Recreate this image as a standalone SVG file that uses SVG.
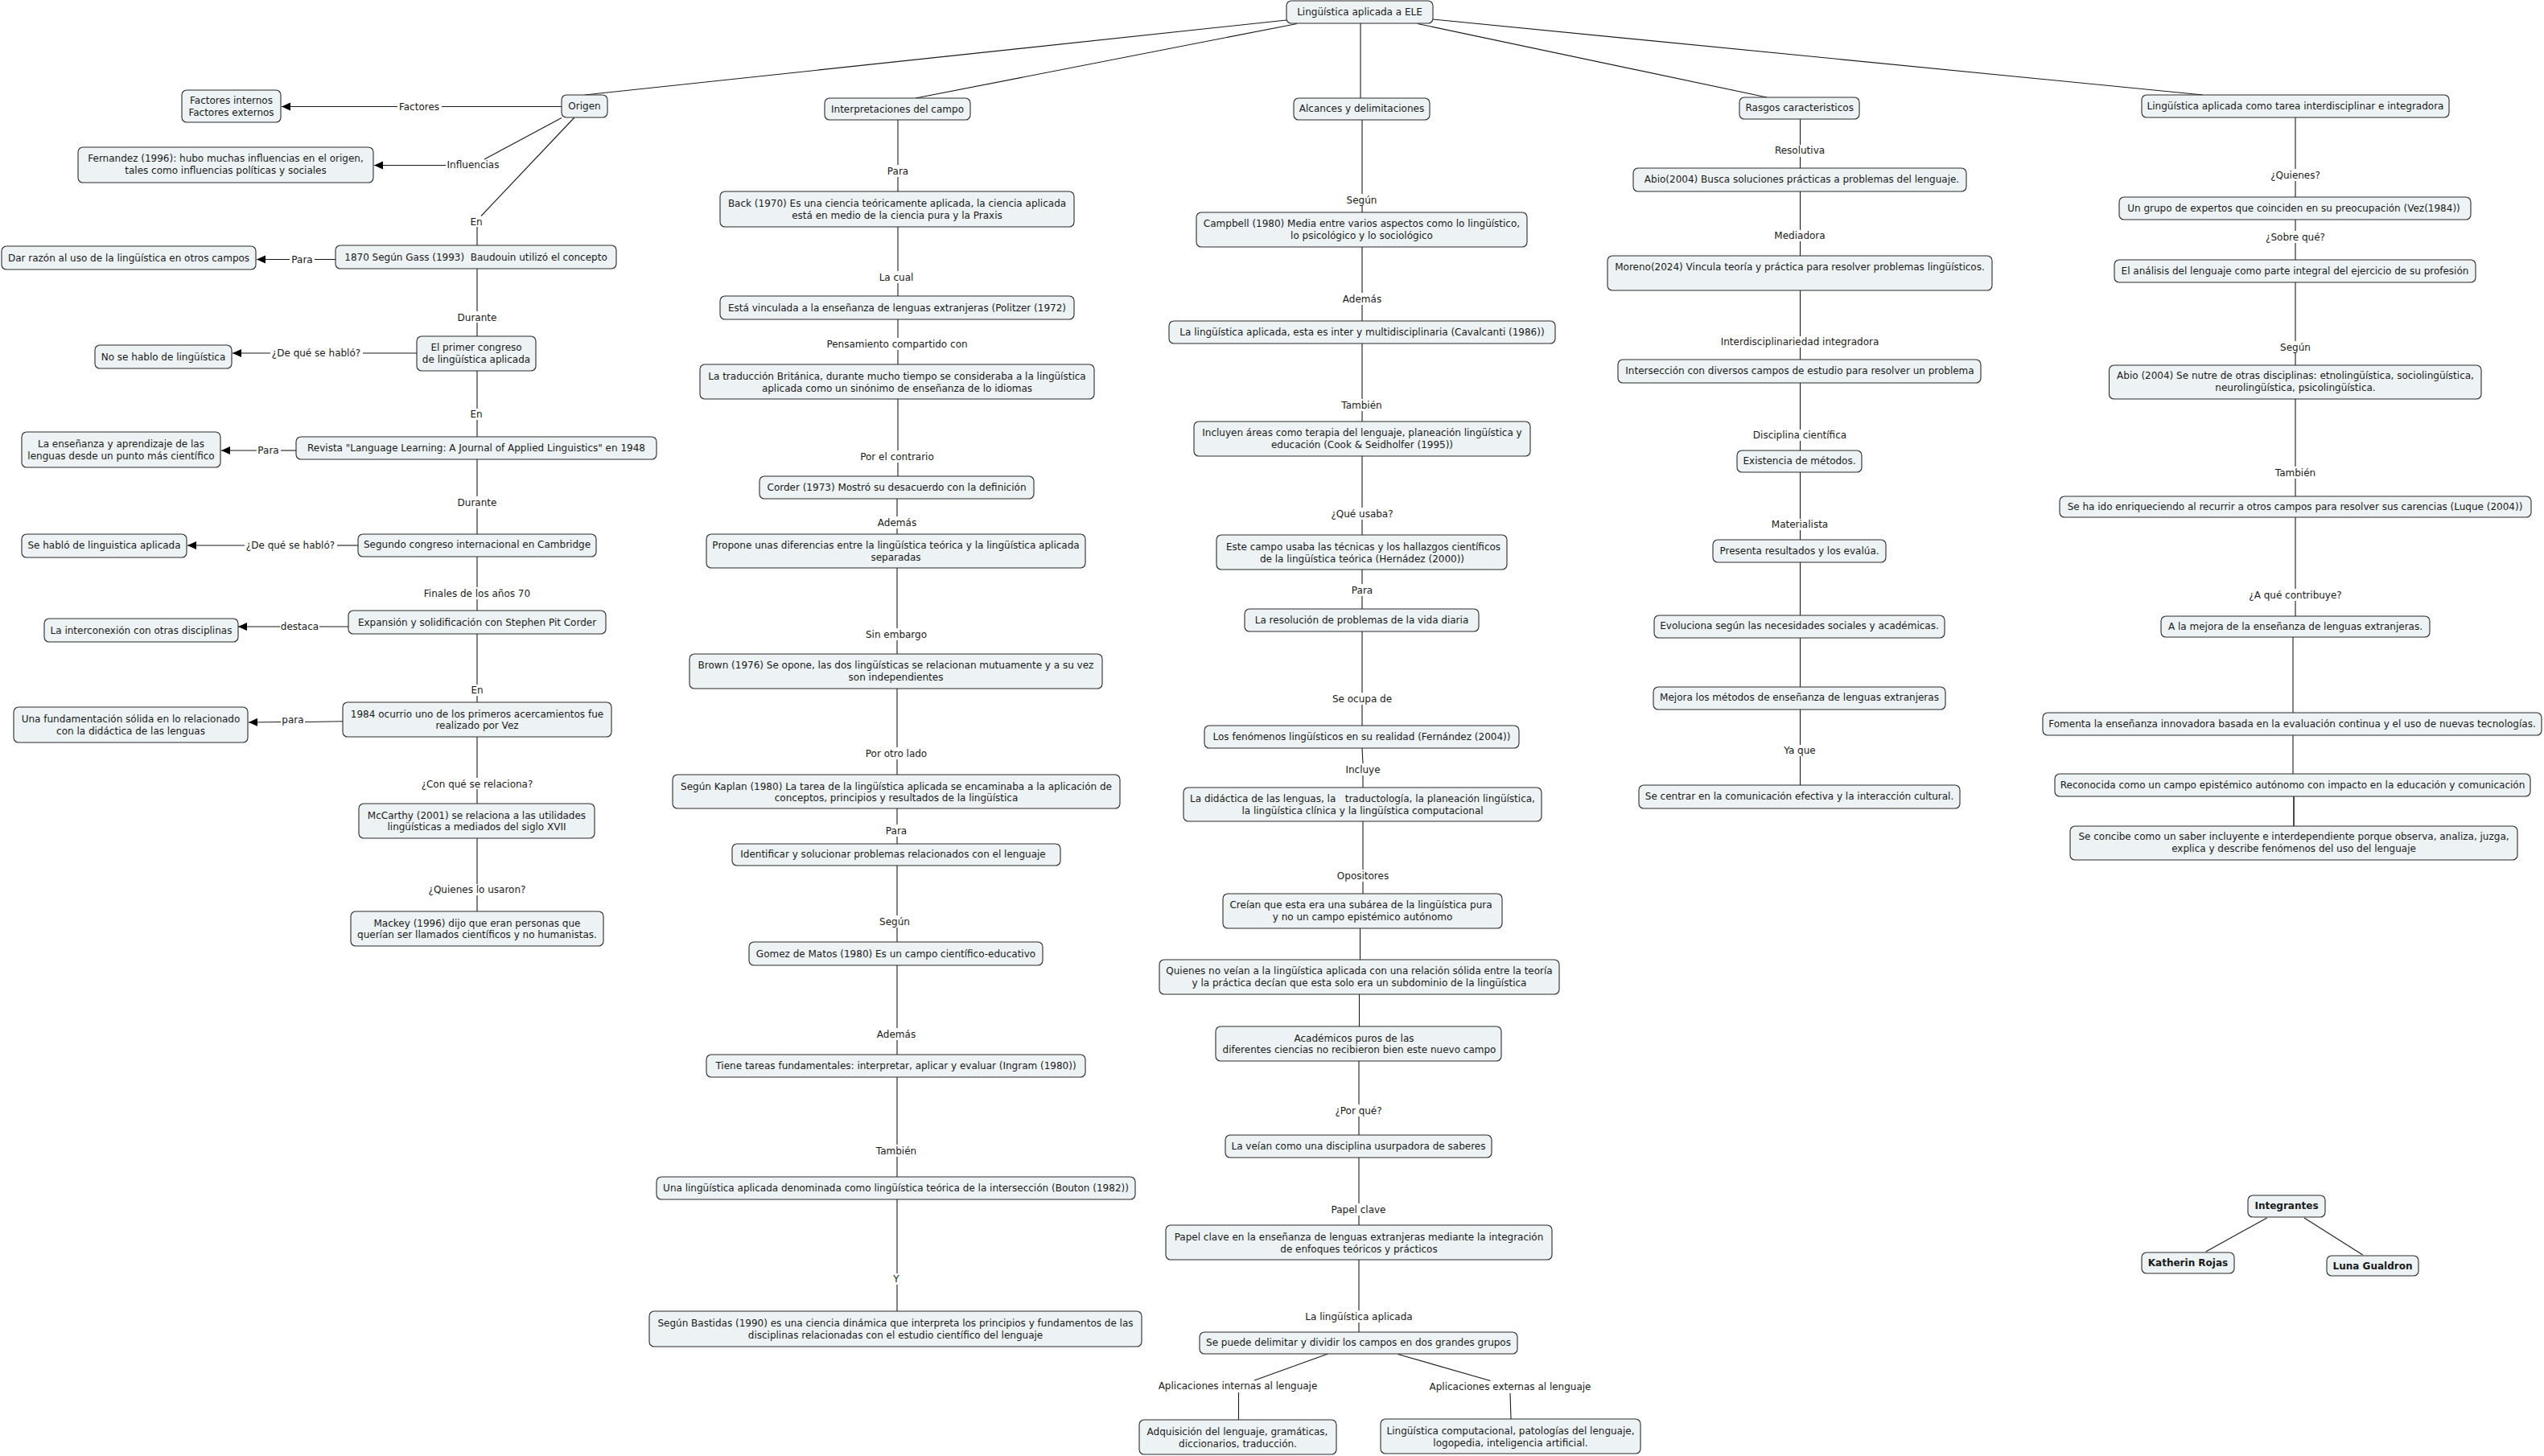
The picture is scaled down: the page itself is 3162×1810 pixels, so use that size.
<svg xmlns="http://www.w3.org/2000/svg" width="3162" height="1810" viewBox="0 0 3162 1810">
<style>
.n{fill:#edf3f5;stroke:#2a2a2a;stroke-width:1.1}
text{font-family:"DejaVu Sans",Verdana,sans-serif;font-size:12px;fill:#1a1a1a;text-anchor:middle}
.b{font-weight:bold}
.c line,.c polyline{stroke:#1a1a1a;stroke-width:1.1;fill:none}
</style>
<defs>
<marker id="ar" markerUnits="userSpaceOnUse" markerWidth="12" markerHeight="11" refX="11" refY="5" orient="auto">
<path d="M0,0 L11,5 L0,10 z" fill="#000"/>
</marker>
</defs>
<rect width="3162" height="1810" fill="#fff"/>

<g class="c" id="connectors">
<!-- root -->
<line x1="1599" y1="25" x2="727" y2="118"/>
<line x1="1612" y1="29.5" x2="1138" y2="122"/>
<line x1="1691" y1="29" x2="1691" y2="122"/>
<line x1="1762" y1="29.5" x2="2196" y2="121"/>
<line x1="1781" y1="24" x2="2738" y2="118"/>
<!-- origen -->
<line x1="698" y1="132.5" x2="549" y2="132.5"/>
<line x1="494" y1="132.5" x2="350" y2="132.5" marker-end="url(#ar)"/>
<line x1="698" y1="146.5" x2="602" y2="198"/>
<line x1="554" y1="205.5" x2="465" y2="205.5" marker-end="url(#ar)"/>
<line x1="714" y1="146" x2="598" y2="268.5"/>
<line x1="593" y1="282" x2="593" y2="305"/>
<line x1="417" y1="322.5" x2="391" y2="322.5"/>
<line x1="360" y1="322.5" x2="319" y2="322.5" marker-end="url(#ar)"/>
<line x1="593" y1="334" x2="593" y2="387"/>
<line x1="593" y1="401" x2="593" y2="418"/>
<line x1="518" y1="439" x2="451" y2="439"/>
<line x1="336" y1="439" x2="289" y2="439" marker-end="url(#ar)"/>
<line x1="593" y1="461" x2="593" y2="508"/>
<line x1="593" y1="522" x2="593" y2="543"/>
<line x1="368" y1="560" x2="349" y2="560"/>
<line x1="319" y1="560" x2="275" y2="560" marker-end="url(#ar)"/>
<line x1="593" y1="571" x2="593" y2="617"/>
<line x1="593" y1="632" x2="593" y2="664"/>
<line x1="445" y1="678" x2="419" y2="678"/>
<line x1="304" y1="678" x2="233" y2="678" marker-end="url(#ar)"/>
<line x1="593" y1="692" x2="593" y2="730"/>
<line x1="593" y1="745" x2="593" y2="759"/>
<line x1="433" y1="779" x2="397" y2="779"/>
<line x1="348" y1="779" x2="296" y2="779" marker-end="url(#ar)"/>
<line x1="593" y1="788" x2="593" y2="851"/>
<line x1="593" y1="865" x2="593" y2="873"/>
<line x1="426" y1="896.7" x2="379" y2="897.5"/>
<line x1="349" y1="897.5" x2="309" y2="898" marker-end="url(#ar)"/>
<line x1="593" y1="916" x2="593" y2="967"/>
<line x1="593" y1="981" x2="593" y2="999"/>
<line x1="593" y1="1042" x2="593" y2="1099"/>
<line x1="593" y1="1113" x2="593" y2="1133"/>
<!-- interpretaciones -->
<line x1="1116" y1="149" x2="1116" y2="205"/>
<line x1="1116" y1="220" x2="1116" y2="238"/>
<line x1="1116" y1="282" x2="1116" y2="337"/>
<line x1="1116" y1="352" x2="1116" y2="368"/>
<line x1="1116" y1="397" x2="1116" y2="420"/>
<line x1="1116" y1="435" x2="1116" y2="453"/>
<line x1="1116" y1="496" x2="1116" y2="560"/>
<line x1="1116" y1="575" x2="1116" y2="592"/>
<line x1="1115" y1="620" x2="1115" y2="642"/>
<line x1="1115" y1="657" x2="1115" y2="664"/>
<line x1="1115" y1="706" x2="1115" y2="781"/>
<line x1="1115" y1="796" x2="1115" y2="813"/>
<line x1="1115" y1="856" x2="1115" y2="929"/>
<line x1="1115" y1="944" x2="1115" y2="963"/>
<line x1="1115" y1="1005" x2="1115" y2="1025"/>
<line x1="1115" y1="1040" x2="1115" y2="1049"/>
<line x1="1115" y1="1076" x2="1115" y2="1138"/>
<line x1="1115" y1="1153" x2="1115" y2="1171"/>
<line x1="1115" y1="1200" x2="1115" y2="1278"/>
<line x1="1115" y1="1293" x2="1115" y2="1311"/>
<line x1="1115" y1="1339" x2="1115" y2="1423"/>
<line x1="1115" y1="1438" x2="1115" y2="1463"/>
<line x1="1115" y1="1491" x2="1115" y2="1583"/>
<line x1="1115" y1="1597" x2="1115" y2="1630"/>
<!-- alcances -->
<line x1="1693" y1="149" x2="1693" y2="241"/>
<line x1="1693" y1="256" x2="1693" y2="264"/>
<line x1="1693" y1="307" x2="1693" y2="364"/>
<line x1="1693" y1="379" x2="1693" y2="399"/>
<line x1="1693" y1="427" x2="1693" y2="496"/>
<line x1="1693" y1="511" x2="1693" y2="524"/>
<line x1="1693" y1="567" x2="1693" y2="631"/>
<line x1="1693" y1="646" x2="1693" y2="665"/>
<line x1="1693" y1="708" x2="1693" y2="726"/>
<line x1="1693" y1="741" x2="1693" y2="757"/>
<line x1="1693" y1="785" x2="1693" y2="861"/>
<line x1="1693" y1="876" x2="1693" y2="902"/>
<line x1="1693" y1="930" x2="1694" y2="949"/>
<line x1="1694" y1="964" x2="1694" y2="979"/>
<line x1="1694" y1="1021" x2="1694" y2="1081"/>
<line x1="1694" y1="1096" x2="1694" y2="1111"/>
<line x1="1690.5" y1="1154" x2="1690.5" y2="1193"/>
<line x1="1689.5" y1="1236" x2="1689.5" y2="1276"/>
<line x1="1689" y1="1319" x2="1689" y2="1373"/>
<line x1="1689" y1="1388" x2="1689" y2="1411"/>
<line x1="1689" y1="1439" x2="1689" y2="1496"/>
<line x1="1689" y1="1511" x2="1689" y2="1523"/>
<line x1="1689" y1="1566" x2="1689" y2="1629"/>
<line x1="1689" y1="1644" x2="1689" y2="1656"/>
<line x1="1650.5" y1="1683" x2="1559" y2="1716"/>
<line x1="1539.5" y1="1731" x2="1539.5" y2="1765"/>
<line x1="1737.5" y1="1683.5" x2="1852.5" y2="1716.5"/>
<line x1="1877" y1="1732" x2="1878" y2="1764"/>
<!-- rasgos -->
<line x1="2237.5" y1="148" x2="2237.5" y2="180"/>
<line x1="2237.5" y1="195" x2="2237.5" y2="209"/>
<line x1="2237.5" y1="238" x2="2237.5" y2="286"/>
<line x1="2237.5" y1="300" x2="2237.5" y2="318"/>
<line x1="2237.5" y1="361" x2="2237.5" y2="418"/>
<line x1="2237.5" y1="432" x2="2237.5" y2="447"/>
<line x1="2237.5" y1="476" x2="2237.5" y2="534"/>
<line x1="2237.5" y1="548" x2="2237.5" y2="560"/>
<line x1="2237.5" y1="587" x2="2237.5" y2="645"/>
<line x1="2237.5" y1="659" x2="2237.5" y2="671"/>
<line x1="2237.5" y1="699" x2="2237.5" y2="765"/>
<line x1="2237.5" y1="793" x2="2237.5" y2="854"/>
<line x1="2237.5" y1="882" x2="2237.5" y2="926"/>
<line x1="2237.5" y1="940" x2="2237.5" y2="976"/>
<!-- tarea -->
<line x1="2853" y1="146" x2="2853" y2="210"/>
<line x1="2853" y1="225" x2="2853" y2="245"/>
<line x1="2853" y1="273" x2="2853" y2="287"/>
<line x1="2853" y1="302" x2="2853" y2="323"/>
<line x1="2853" y1="351" x2="2853" y2="424"/>
<line x1="2853" y1="439" x2="2853" y2="454"/>
<line x1="2853" y1="496" x2="2853" y2="580"/>
<line x1="2853" y1="595" x2="2853" y2="617"/>
<line x1="2853" y1="643" x2="2853" y2="732"/>
<line x1="2853" y1="747" x2="2853" y2="766"/>
<line x1="2850" y1="792" x2="2850" y2="886"/>
<line x1="2850" y1="914" x2="2850" y2="962"/>
<line x1="2851" y1="990" x2="2851" y2="1027" style="stroke-width:1.6"/>
<!-- integrantes -->
<line x1="2817.7" y1="1514" x2="2741.7" y2="1556"/>
<line x1="2864" y1="1514" x2="2936.7" y2="1560"/>
</g>

<g id="labels">
<text x="521" y="136.6">Factores</text>
<text x="588" y="209.3">Influencias</text>
<text x="592" y="280.3">En</text>
<text x="375.5" y="327">Para</text>
<text x="593" y="398.6">Durante</text>
<text x="393" y="442.6">¿De qué se habló?</text>
<text x="592" y="519.3">En</text>
<text x="333.5" y="564.3">Para</text>
<text x="593" y="629">Durante</text>
<text x="361" y="682">¿De qué se habló?</text>
<text x="593" y="741.6">Finales de los años 70</text>
<text x="372.5" y="783.3">destaca</text>
<text x="593" y="862">En</text>
<text x="364" y="899.3">para</text>
<text x="593" y="978.6">¿Con qué se relaciona?</text>
<text x="593" y="1110">¿Quienes lo usaron?</text>

<text x="1116" y="217">Para</text>
<text x="1114" y="349.3">La cual</text>
<text x="1115" y="432.3">Pensamiento compartido con</text>
<text x="1115" y="572.3">Por el contrario</text>
<text x="1115" y="653.7">Además</text>
<text x="1114" y="793.3">Sin embargo</text>
<text x="1114" y="941.3">Por otro lado</text>
<text x="1114" y="1037.3">Para</text>
<text x="1112" y="1150.3">Según</text>
<text x="1114" y="1290.3">Además</text>
<text x="1114" y="1435.3">También</text>
<text x="1114" y="1594.3">Y</text>

<text x="1692.5" y="252.7">Según</text>
<text x="1693" y="376">Además</text>
<text x="1692.5" y="508.3">También</text>
<text x="1693" y="643.3">¿Qué usaba?</text>
<text x="1693" y="738">Para</text>
<text x="1693" y="873.3">Se ocupa de</text>
<text x="1694" y="961.3">Incluye</text>
<text x="1694" y="1093.3">Opositores</text>
<text x="1688.5" y="1385.3">¿Por qué?</text>
<text x="1688.5" y="1508.3">Papel clave</text>
<text x="1689" y="1641.3">La lingüística aplicada</text>
<text x="1538.5" y="1727">Aplicaciones internas al lenguaje</text>
<text x="1877" y="1728.3">Aplicaciones externas al lenguaje</text>

<text x="2237" y="191.3">Resolutiva</text>
<text x="2237" y="297.3">Mediadora</text>
<text x="2237" y="429.3">Interdisciplinariedad integradora</text>
<text x="2237" y="545.3">Disciplina científica</text>
<text x="2237" y="656">Materialista</text>
<text x="2237" y="937.3">Ya que</text>

<text x="2853" y="222">¿Quienes?</text>
<text x="2853" y="299">¿Sobre qué?</text>
<text x="2853" y="436.3">Según</text>
<text x="2853" y="592.3">También</text>
<text x="2853" y="744.3">¿A qué contribuye?</text>
</g>

<g id="n-root"><rect class="n" x="1599" y="1" width="182" height="28" rx="6"/><text x="1690" y="19">Lingüística aplicada a ELE</text></g>

<g id="n-origen"><rect class="n" x="698" y="118" width="57" height="28" rx="6"/><text x="726.5" y="135.5">Origen</text></g>
<g id="n-factores"><rect class="n" x="226" y="112" width="123" height="40" rx="6"/><text x="287.5" y="129.3">Factores internos</text><text x="287.5" y="143.6">Factores externos</text></g>
<g id="n-fernandez"><rect class="n" x="97" y="183" width="367" height="44" rx="6"/><text x="280.5" y="201.3">Fernandez (1996): hubo muchas influencias en el origen,</text><text x="280.5" y="216">tales como influencias políticas y sociales</text></g>
<g id="n-1870"><rect class="n" x="417" y="305" width="349" height="29" rx="6"/><text x="591.5" y="324" xml:space="preserve" style="white-space:pre">1870 Según Gass (1993)  Baudouin utilizó el concepto</text></g>
<g id="n-darrazon"><rect class="n" x="2" y="306" width="316" height="29" rx="6"/><text x="160" y="325">Dar razón al uso de la lingüística en otros campos</text></g>
<g id="n-primercongreso"><rect class="n" x="518" y="418" width="148" height="43" rx="6"/><text x="592" y="436.3">El primer congreso</text><text x="592" y="451.3">de lingüística aplicada</text></g>
<g id="n-nosehablo"><rect class="n" x="118" y="429" width="170" height="29" rx="6"/><text x="203" y="447.5">No se hablo de lingüística</text></g>
<g id="n-revista"><rect class="n" x="368" y="543" width="448" height="28" rx="6"/><text x="592" y="560.6">Revista "Language Learning: A Journal of Applied Linguistics" en 1948</text></g>
<g id="n-ensenanza"><rect class="n" x="27" y="537" width="247" height="44" rx="6"/><text x="150.5" y="556.3">La enseñanza y aprendizaje de las</text><text x="150.5" y="570.6">lenguas desde un punto más científico</text></g>
<g id="n-segundo"><rect class="n" x="445" y="664" width="296" height="28" rx="6"/><text x="593" y="681">Segundo congreso internacional en Cambridge</text></g>
<g id="n-sehablo"><rect class="n" x="27" y="664" width="205" height="29" rx="6"/><text x="129.5" y="682">Se habló de linguistica aplicada</text></g>
<g id="n-expansion"><rect class="n" x="433" y="759" width="320" height="29" rx="6"/><text x="593" y="777.6">Expansión y solidificación con Stephen Pit Corder</text></g>
<g id="n-interconexion"><rect class="n" x="55" y="769" width="241" height="29" rx="6"/><text x="175.5" y="787.6">La interconexión con otras disciplinas</text></g>
<g id="n-1984"><rect class="n" x="426" y="873" width="334" height="43" rx="6"/><text x="593" y="891.5">1984 ocurrio uno de los primeros acercamientos fue</text><text x="593" y="906">realizado por Vez</text></g>
<g id="n-fundamentacion"><rect class="n" x="17" y="879" width="291" height="44" rx="6"/><text x="162.5" y="898.3">Una fundamentación sólida en lo relacionado</text><text x="162.5" y="912.6">con la didáctica de las lenguas</text></g>
<g id="n-mccarthy"><rect class="n" x="446" y="999" width="293" height="43" rx="6"/><text x="592.5" y="1017.6">McCarthy (2001) se relaciona a las utilidades</text><text x="592.5" y="1032">lingüísticas a mediados del siglo XVII</text></g>
<g id="n-mackey"><rect class="n" x="436" y="1133" width="314" height="43" rx="6"/><text x="593" y="1151.6">Mackey (1996) dijo que eran personas que</text><text x="593" y="1166">querían ser llamados científicos y no humanistas.</text></g>

<g id="n-interp"><rect class="n" x="1025" y="122" width="181" height="27" rx="6"/><text x="1115.5" y="139.5">Interpretaciones del campo</text></g>
<g id="n-back"><rect class="n" x="895" y="238" width="440" height="44" rx="6"/><text x="1115" y="256.6">Back (1970) Es una ciencia teóricamente aplicada, la ciencia aplicada</text><text x="1115" y="271.6">está en medio de la ciencia pura y la Praxis</text></g>
<g id="n-politzer"><rect class="n" x="895" y="368" width="440" height="29" rx="6"/><text x="1115" y="387">Está vinculada a la enseñanza de lenguas extranjeras (Politzer (1972)</text></g>
<g id="n-traduccion"><rect class="n" x="870" y="453" width="490" height="43" rx="6"/><text x="1115" y="472">La traducción Británica, durante mucho tiempo se consideraba a la lingüística</text><text x="1115" y="486.7">aplicada como un sinónimo de enseñanza de lo idiomas</text></g>
<g id="n-corder"><rect class="n" x="944" y="592" width="341" height="28" rx="6"/><text x="1114.5" y="610.3">Corder (1973) Mostró su desacuerdo con la definición</text></g>
<g id="n-propone"><rect class="n" x="878" y="664" width="471" height="42" rx="6"/><text x="1113.5" y="682">Propone unas diferencias entre la lingüística teórica y la lingüística aplicada</text><text x="1113.5" y="696.6">separadas</text></g>
<g id="n-brown"><rect class="n" x="857" y="813" width="513" height="43" rx="6"/><text x="1113.5" y="831">Brown (1976) Se opone, las dos lingüísticas se relacionan mutuamente y a su vez</text><text x="1113.5" y="845.7">son independientes</text></g>
<g id="n-kaplan"><rect class="n" x="836" y="963" width="556" height="42" rx="6"/><text x="1114" y="981.7">Según Kaplan (1980) La tarea de la lingüística aplicada se encaminaba a la aplicación de</text><text x="1114" y="996">conceptos, principios y resultados de la lingüística</text></g>
<g id="n-identificar"><rect class="n" x="910" y="1049" width="408" height="27" rx="6"/><text x="1110" y="1066">Identificar y solucionar problemas relacionados con el lenguaje</text></g>
<g id="n-gomez"><rect class="n" x="931" y="1171" width="365" height="29" rx="6"/><text x="1113.5" y="1189.7">Gomez de Matos (1980) Es un campo científico-educativo</text></g>
<g id="n-tiene"><rect class="n" x="878" y="1311" width="471" height="28" rx="6"/><text x="1113.5" y="1329">Tiene tareas fundamentales: interpretar, aplicar y evaluar (Ingram (1980))</text></g>
<g id="n-bouton"><rect class="n" x="816" y="1463" width="595" height="28" rx="6"/><text x="1113.5" y="1481.3">Una lingüística aplicada denominada como lingüística teórica de la intersección (Bouton (1982))</text></g>
<g id="n-bastidas"><rect class="n" x="807" y="1630" width="612" height="44" rx="6"/><text x="1113" y="1649.3">Según Bastidas (1990) es una ciencia dinámica que interpreta los principios y fundamentos de las</text><text x="1113" y="1663.8">disciplinas relacionadas con el estudio científico del lenguaje</text></g>

<g id="n-alcances"><rect class="n" x="1608" y="122" width="169" height="27" rx="6"/><text x="1692.5" y="139">Alcances y delimitaciones</text></g>
<g id="n-campbell"><rect class="n" x="1487" y="264" width="411" height="43" rx="6"/><text x="1692.5" y="282.3">Campbell (1980) Media entre varios aspectos como lo lingüístico,</text><text x="1692.5" y="297.3">lo psicológico y lo sociológico</text></g>
<g id="n-cavalcanti"><rect class="n" x="1453" y="399" width="480" height="28" rx="6"/><text x="1693" y="417">La lingüística aplicada, esta es inter y multidisciplinaria (Cavalcanti (1986))</text></g>
<g id="n-incluyen"><rect class="n" x="1484" y="524" width="418" height="43" rx="6"/><text x="1693" y="542.3">Incluyen áreas como terapia del lenguaje, planeación lingüística y</text><text x="1693" y="557.3">educación (Cook &amp; Seidholfer (1995))</text></g>
<g id="n-estecampo"><rect class="n" x="1512" y="665" width="361" height="43" rx="6"/><text x="1694.5" y="684">Este campo usaba las técnicas y los hallazgos científicos</text><text x="1693" y="698.6">de la lingüística teórica (Hernádez (2000))</text></g>
<g id="n-resolucion"><rect class="n" x="1547" y="757" width="291" height="28" rx="6"/><text x="1692.5" y="774.8">La resolución de problemas de la vida diaria</text></g>
<g id="n-fenomenos"><rect class="n" x="1497" y="902" width="391" height="28" rx="6"/><text x="1692.5" y="920.3">Los fenómenos lingüísticos en su realidad (Fernández (2004))</text></g>
<g id="n-didactica"><rect class="n" x="1471" y="979" width="445" height="42" rx="6"/><text x="1693.5" y="997.3" xml:space="preserve" style="white-space:pre">La didáctica de las lenguas, la   traductología, la planeación lingüística,</text><text x="1693.5" y="1012">la lingüística clínica y la lingüística computacional</text></g>
<g id="n-creian"><rect class="n" x="1520" y="1111" width="347" height="43" rx="6"/><text x="1691.5" y="1129.3">Creían que esta era una subárea de la lingüística pura</text><text x="1693.5" y="1144.3">y no un campo epistémico autónomo</text></g>
<g id="n-quienes"><rect class="n" x="1441" y="1193" width="497" height="43" rx="6"/><text x="1689.5" y="1211.3">Quienes no veían a la lingüística aplicada con una relación sólida entre la teoría</text><text x="1689.5" y="1225.7">y la práctica decían que esta solo era un subdominio de la lingüística</text></g>
<g id="n-academicos"><rect class="n" x="1511" y="1276" width="355" height="43" rx="6"/><text x="1683" y="1295">Académicos puros de las</text><text x="1689.5" y="1309.3">diferentes ciencias no recibieron bien este nuevo campo</text></g>
<g id="n-veian"><rect class="n" x="1523" y="1411" width="331" height="28" rx="6"/><text x="1688.5" y="1429">La veían como una disciplina usurpadora de saberes</text></g>
<g id="n-papel"><rect class="n" x="1449" y="1523" width="480" height="43" rx="6"/><text x="1689" y="1542.3">Papel clave en la enseñanza de lenguas extranjeras mediante la integración</text><text x="1689" y="1556.5">de enfoques teóricos y prácticos</text></g>
<g id="n-sepuede"><rect class="n" x="1491" y="1656" width="395" height="27" rx="6"/><text x="1688.5" y="1673.3">Se puede delimitar y dividir los campos en dos grandes grupos</text></g>
<g id="n-adquisicion"><rect class="n" x="1416" y="1765" width="245" height="43" rx="6"/><text x="1538" y="1784.3">Adquisición del lenguaje, gramáticas,</text><text x="1538.5" y="1798.5">diccionarios, traducción.</text></g>
<g id="n-computacional"><rect class="n" x="1716" y="1764" width="323" height="43" rx="6"/><text x="1877.5" y="1783.3">Lingüística computacional, patologías del lenguaje,</text><text x="1877.5" y="1797.5">logopedia, inteligencia artificial.</text></g>

<g id="n-rasgos"><rect class="n" x="2162" y="121" width="149" height="27" rx="6"/><text x="2236.7" y="138">Rasgos caracteristicos</text></g>
<g id="n-abio"><rect class="n" x="2030" y="209" width="414" height="29" rx="6"/><text x="2239.5" y="227.2">Abio(2004) Busca soluciones prácticas a problemas del lenguaje.</text></g>
<g id="n-moreno"><rect class="n" x="1998" y="318" width="478" height="43" rx="6"/><text x="2237" y="335.7">Moreno(2024) Vincula teoría y práctica para resolver problemas lingüísticos.</text></g>
<g id="n-interseccion"><rect class="n" x="2011" y="447" width="451" height="29" rx="6"/><text x="2237" y="465">Intersección con diversos campos de estudio para resolver un problema</text></g>
<g id="n-existencia"><rect class="n" x="2159" y="560" width="155" height="27" rx="6"/><text x="2236.5" y="577.3">Existencia de métodos.</text></g>
<g id="n-presenta"><rect class="n" x="2129" y="671" width="215" height="28" rx="6"/><text x="2236.5" y="688.5">Presenta resultados y los evalúa.</text></g>
<g id="n-evoluciona"><rect class="n" x="2056" y="765" width="361" height="28" rx="6"/><text x="2236.5" y="782">Evoluciona según las necesidades sociales y académicas.</text></g>
<g id="n-mejora"><rect class="n" x="2055" y="854" width="363" height="28" rx="6"/><text x="2236.5" y="871">Mejora los métodos de enseñanza de lenguas extranjeras</text></g>
<g id="n-secentrar"><rect class="n" x="2037" y="976" width="399" height="29" rx="6"/><text x="2236.5" y="994">Se centrar en la comunicación efectiva y la interacción cultural.</text></g>

<g id="n-tarea"><rect class="n" x="2662" y="118" width="382" height="28" rx="6"/><text x="2853" y="135.5">Lingüística aplicada como tarea interdisciplinar e integradora</text></g>
<g id="n-grupo"><rect class="n" x="2634" y="245" width="437" height="28" rx="6"/><text x="2851" y="262.5">Un grupo de expertos que coinciden en su preocupación (Vez(1984))</text></g>
<g id="n-analisis"><rect class="n" x="2628" y="323" width="449" height="28" rx="6"/><text x="2852.5" y="340.5">El análisis del lenguaje como parte integral del ejercicio de su profesión</text></g>
<g id="n-abio2"><rect class="n" x="2621.5" y="454" width="462.5" height="42" rx="6"/><text x="2853" y="471.3">Abio (2004) Se nutre de otras disciplinas: etnolingüística, sociolingüística,</text><text x="2853" y="486.3">neurolingüística, psicolingüística.</text></g>
<g id="n-luque"><rect class="n" x="2560" y="617" width="586" height="26" rx="6"/><text x="2852.5" y="634">Se ha ido enriqueciendo al recurrir a otros campos para resolver sus carencias (Luque (2004))</text></g>
<g id="n-alamejora"><rect class="n" x="2686" y="766" width="334" height="26" rx="6"/><text x="2853" y="783">A la mejora de la enseñanza de lenguas extranjeras.</text></g>
<g id="n-fomenta"><rect class="n" x="2539" y="886" width="620" height="28" rx="6"/><text x="2849" y="904">Fomenta la enseñanza innovadora basada en la evaluación continua y el uso de nuevas tecnologías.</text></g>
<g id="n-reconocida"><rect class="n" x="2554" y="962" width="591" height="28" rx="6"/><text x="2849.5" y="980">Reconocida como un campo epistémico autónomo con impacto en la educación y comunicación</text></g>
<g id="n-concibe"><rect class="n" x="2573" y="1027" width="556" height="42" rx="6"/><text x="2851" y="1043.5">Se concibe como un saber incluyente e interdependiente porque observa, analiza, juzga,</text><text x="2851" y="1058.5">explica y describe fenómenos del uso del lenguaje</text></g>

<g id="n-integrantes"><rect class="n" x="2794" y="1486" width="96" height="27" rx="6"/><text class="b" x="2842" y="1503">Integrantes</text></g>
<g id="n-katherin"><rect class="n" x="2662" y="1557" width="115" height="26" rx="6"/><text class="b" x="2719.5" y="1574">Katherin Rojas</text></g>
<g id="n-luna"><rect class="n" x="2892" y="1561" width="114" height="25" rx="6"/><text class="b" x="2949" y="1577.5">Luna Gualdron</text></g>
</svg>
